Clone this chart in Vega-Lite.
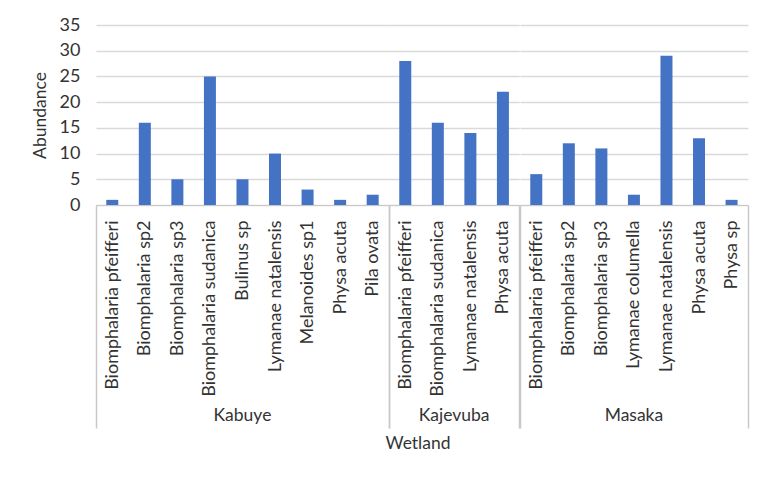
{
  "$schema": "https://vega.github.io/schema/vega-lite/v6.json",
  "background": "white",
  "padding": {"left": 31, "top": 16, "right": 5, "bottom": 5},
  "data": {
    "values": [
      {"Wetland": "Kabuye", "Species": "Biomphalaria pfeifferi", "Abundance": 1},
      {"Wetland": "Kabuye", "Species": "Biomphalaria sp2", "Abundance": 16},
      {"Wetland": "Kabuye", "Species": "Biomphalaria sp3", "Abundance": 5},
      {"Wetland": "Kabuye", "Species": "Biomphalaria sudanica", "Abundance": 25},
      {"Wetland": "Kabuye", "Species": "Bulinus sp", "Abundance": 5},
      {"Wetland": "Kabuye", "Species": "Lymanae natalensis", "Abundance": 10},
      {"Wetland": "Kabuye", "Species": "Melanoides sp1", "Abundance": 3},
      {"Wetland": "Kabuye", "Species": "Physa acuta", "Abundance": 1},
      {"Wetland": "Kabuye", "Species": "Pila ovata", "Abundance": 2},
      {"Wetland": "Kajevuba", "Species": "Biomphalaria pfeifferi", "Abundance": 28},
      {"Wetland": "Kajevuba", "Species": "Biomphalaria sudanica", "Abundance": 16},
      {"Wetland": "Kajevuba", "Species": "Lymanae natalensis", "Abundance": 14},
      {"Wetland": "Kajevuba", "Species": "Physa acuta", "Abundance": 22},
      {"Wetland": "Masaka", "Species": "Biomphalaria pfeifferi", "Abundance": 6},
      {"Wetland": "Masaka", "Species": "Biomphalaria sp2", "Abundance": 12},
      {"Wetland": "Masaka", "Species": "Biomphalaria sp3", "Abundance": 11},
      {"Wetland": "Masaka", "Species": "Lymanae columella", "Abundance": 2},
      {"Wetland": "Masaka", "Species": "Lymanae natalensis", "Abundance": 29},
      {"Wetland": "Masaka", "Species": "Physa acuta", "Abundance": 13},
      {"Wetland": "Masaka", "Species": "Physa sp", "Abundance": 1}
    ]
  },
  "facet": {
    "column": {
      "field": "Wetland",
      "type": "nominal",
      "sort": ["Kabuye", "Kajevuba", "Masaka"],
      "title": "Wetland",
      "header": {
        "labelOrient": "bottom",
        "titleOrient": "bottom",
        "labelFont": "Lato",
        "labelFontSize": 17.5,
        "labelColor": "#333333",
        "labelPadding": 202,
        "titleFont": "Lato",
        "titleFontSize": 17.5,
        "titleFontWeight": "normal",
        "titleColor": "#333333",
        "titlePadding": 0
      }
    }
  },
  "spacing": 0,
  "bounds": "flush",
  "spec": {
    "width": {"step": 32.55},
    "height": 180,
    "mark": {"type": "bar", "size": 12, "color": "#4472C4"},
    "encoding": {
      "x": {
        "field": "Species",
        "type": "nominal",
        "sort": null,
        "title": null,
        "scale": {"paddingInner": 0, "paddingOuter": 0},
        "axis": {
          "labelAngle": 270,
          "labelFont": "Lato",
          "labelFontSize": 18,
          "labelColor": "#333333",
          "domainColor": "#c8c8c8",
          "domainWidth": 1,
          "ticks": true,
          "tickBand": "extent",
          "tickOffset": -1,
          "tickSize": 223,
          "tickWidth": 1.5,
          "tickColor": {"condition": {"test": "datum.index < 0 || datum.index > 0.99", "value": "#c8c8c8"}, "value": "rgba(0,0,0,0)"},
          "labelPadding": -208,
          "labelLimit": 300
        }
      },
      "y": {
        "field": "Abundance",
        "type": "quantitative",
        "scale": {"domain": [0, 35]},
        "axis": {
          "values": [0, 5, 10, 15, 20, 25, 30, 35],
          "title": "Abundance",
          "titleFont": "Lato",
          "titleFontSize": 17.5,
          "titleFontWeight": "normal",
          "titleColor": "#333333",
          "titlePadding": 10,
          "labelFont": "Lato",
          "labelFontSize": 18,
          "labelColor": "#333333",
          "labelPadding": 16,
          "ticks": false,
          "domain": false,
          "gridColor": "#d9d9d9",
          "gridWidth": 1.5
        }
      }
    }
  },
  "resolve": {"scale": {"x": "independent"}},
  "config": {"view": {"stroke": null}, "font": "Lato"}
}
